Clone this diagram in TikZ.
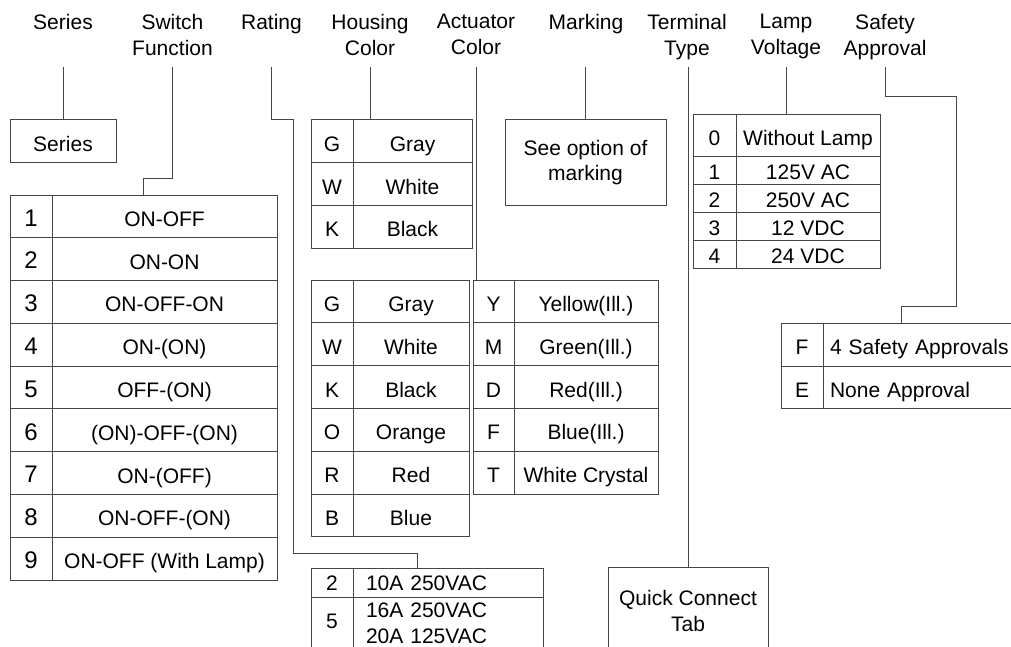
\documentclass[tikz,border=0pt]{standalone}
\usepackage{fontspec}
\setmainfont{Liberation Sans}
\definecolor{linec}{RGB}{70,70,70}
\tikzset{
  lbl/.style={font=\fontsize{21}{26}\selectfont, align=center, anchor=north, inner sep=0pt},
  cell/.style={draw=linec, line width=1pt, inner sep=0pt, font=\fontsize{21}{26}\selectfont, align=center},
  one/.style={text height=20pt, text depth=0pt},
  bigtxt/.style={font=\fontsize{24}{28}\selectfont, text height=19.5pt, text depth=0pt},
  lead/.style={draw=linec, line width=1pt},
}
\begin{document}
\begin{tikzpicture}[x=1pt,y=-1pt]
\useasboundingbox (0,0) rectangle (1011,647);
\clip (0,0) rectangle (1011,647);
% top labels
\node[lbl] (lSer) at (63,13.7) {Series};
\node[lbl] (lSw) at (172.5,13.7) {Switch\\Function};
\node[lbl] (lRat) at (271.5,13.7) {Rating};
\node[lbl] (lHou) at (370,13.7) {Housing\\Color};
\node[lbl] (lAct) at (476,13.7) {Actuator\\Color};
\node[lbl] (lMar) at (586,13.7) {Marking};
\node[lbl] (lTer) at (687,13.7) {Terminal\\Type};
\node[lbl] (lLam) at (786,13.7) {Lamp\\Voltage};
\node[lbl] (lSaf) at (885,13.7) {Safety\\Approval};
\coordinate (ytop) at (0,67);

% Series box
\node[cell, one, minimum width=106, minimum height=43] (ser) at (63,141.5) {Series};

% Switch function table
\foreach \i/\n [count=\k] in {1/ON-OFF,2/ON-ON,3/ON-OFF-ON,4/ON-(ON),5/OFF-(ON),6/(ON)-OFF-(ON),7/ON-(OFF),8/ON-OFF-(ON),9/ON-OFF (With Lamp)}{
  \pgfmathsetmacro\yy{195+42.78*(\k-1)+21.39}
  \node[cell, bigtxt, minimum width=42, minimum height=42.78] (sw\k k) at (31,\yy) {\i};
  \node[cell, one, minimum width=225, minimum height=42.78] (sw\k n) at (164.5,\yy) {\n};
}

% Housing color
\foreach \l/\n [count=\k] in {G/Gray,W/White,K/Black}{
  \pgfmathsetmacro\yy{120+42.67*(\k-1)+21.33}
  \node[cell, one, minimum width=42, minimum height=42.67] (ho\k k) at (332,\yy) {\l};
  \node[cell, one, minimum width=119, minimum height=42.67] (ho\k n) at (412.5,\yy) {\n};
}

% Actuator color left
\foreach \l/\n [count=\k] in {G/Gray,W/White,K/Black,O/Orange,R/Red,B/Blue}{
  \pgfmathsetmacro\yy{280+42.83*(\k-1)+21.42}
  \node[cell, one, minimum width=42, minimum height=42.83] (al\k k) at (332,\yy) {\l};
  \node[cell, one, minimum width=116, minimum height=42.83] (al\k n) at (411,\yy) {\n};
}
% Actuator color right
\foreach \l/\n [count=\k] in {Y/Yellow(Ill.),M/Green(Ill.),D/Red(Ill.),F/Blue(Ill.),T/White Crystal}{
  \pgfmathsetmacro\yy{280+42.8*(\k-1)+21.4}
  \node[cell, one, minimum width=41, minimum height=42.8] (ar\k k) at (493.5,\yy) {\l};
  \node[cell, one, minimum width=144, minimum height=42.8] (ar\k n) at (586,\yy) {\n};
}

% Marking
\node[cell, minimum width=161, minimum height=85, font=\fontsize{21}{25}\selectfont] (mar) at (585.5,162.5) {See option of\\marking};

% Lamp voltage
\node[cell, one, minimum width=43, minimum height=42] (la0k) at (714.5,136) {0};
\node[cell, one, minimum width=144, minimum height=42] (la0n) at (808,136) {Without Lamp};
\foreach \l/\n [count=\k] in {1/125V AC,2/250V AC,3/12 VDC,4/24 VDC}{
  \pgfmathsetmacro\yy{157+27.75*(\k-1)+13.875}
  \node[cell, minimum width=43, minimum height=27.75, text height=18pt, text depth=0pt] (la\k k) at (714.5,\yy) {\l};
  \node[cell, minimum width=144, minimum height=27.75, text height=18pt, text depth=0pt] (la\k n) at (808,\yy) {\n};
}

% Safety approval
\node[cell, one, minimum width=42, minimum height=43] (sa1k) at (802,344.5) {F};
\node[cell, one, minimum width=207, minimum height=43, text width=193, align=left] (sa1n) at (926.5,344.5) {4 Safety Approvals};
\node[cell, one, minimum width=42, minimum height=42] (sa2k) at (802,387) {E};
\node[cell, one, minimum width=207, minimum height=42, text width=193, align=left] (sa2n) at (926.5,387) {None Approval};

% Rating
\node[cell, minimum width=42, minimum height=29, text height=15pt, text depth=0pt] (ra1k) at (332,582.5) {2};
\node[cell, minimum width=190, minimum height=29, text height=15pt, text depth=0pt, text width=164, align=left] (ra1n) at (448,582.5) {10A 250VAC};
\node[cell, minimum width=42, minimum height=53, text height=9pt, text depth=0pt] (ra2k) at (332,623.5) {5};
\node[cell, minimum width=190, minimum height=53, text width=164, align=left] (ra2n) at (448,623.5) {16A 250VAC\\20A 125VAC};

% Terminal type
\node[cell, minimum width=160, minimum height=87, font=\fontsize{21}{26}\selectfont] (qc) at (688,610.5) {Quick Connect\\Tab};

% leader lines
\coordinate (swb) at (143,179);
\coordinate (rb1) at (293,120);
\coordinate (rb2) at (417.7,553);
\coordinate (sb1) at (956,97);
\coordinate (sb2) at (901,306);
\draw[lead] (ser.north |- ytop) -- (ser.north);
\draw[lead] (lSw.south |- ytop) |- (swb) -- (sw1n.north -| swb);
\draw[lead] (lRat.south |- ytop) |- (rb1) |- (rb2) -- (ra1n.north -| rb2);
\draw[lead] (lHou.south |- ytop) -- (lHou.south |- ho1n.north);
\draw[lead] (lAct.south |- ytop) -- (lAct.south |- ar1k.north);
\draw[lead] (mar.north |- ytop) -- (mar.north);
\draw[lead] (qc.north |- ytop) -- (qc.north);
\draw[lead] (lLam.south |- ytop) -- (lLam.south |- la0n.north);
\draw[lead] (lSaf.south |- ytop) |- (sb1) |- (sb2) -- (sa1n.north -| sb2);
\end{tikzpicture}
\end{document}
